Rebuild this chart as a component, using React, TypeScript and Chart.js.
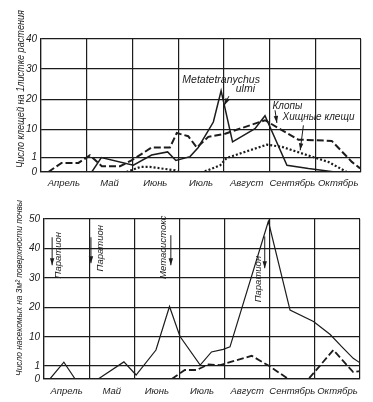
import React, { useEffect, useRef } from 'react';
import { Chart, LinearScale, registerables } from 'chart.js';

// ---------- data ----------
const MONTHS = ['Апрель', 'Май', 'Июнь', 'Июль', 'Август', 'Сентябрь', 'Октябрь'];
const MITES_Y_TICKS = [0, 1, 10, 20, 30, 40];
const INSECTS_Y_TICKS = [0, 1, 10, 20, 30, 40, 50];

const MITES_TITLE = 'Число клещей на 1листке растения';
const INSECTS_TITLE = 'Число насекомых на 3м² поверхности почвы';

// top chart (x in months from start of April, y = number per leaf)
const ULMI_X = [1.11, 1.32, 2.02, 2.42, 2.77, 2.95, 3.26, 3.44, 3.77, 3.94, 4.19, 4.68, 4.9, 5.38, 5.85, 6.43];
const ULMI_Y = [0, 1.0, 0.47, 1.8, 2.8, 0.8, 1.3, 4.2, 12.4, 22.8, 6.0, 10.2, 14.5, 0.47, 0.24, 0];

const BUGS_X = [0.16, 0.45, 0.82, 1.07, 1.33, 1.73, 1.98, 2.42, 2.82, 2.97, 3.22, 3.41, 3.66, 4.03, 4.9, 5.63, 6.36, 6.8, 6.98];
const BUGS_Y = [0, 0.63, 0.63, 1.7, 0.4, 0.4, 0.8, 4.2, 4.2, 8.8, 7.8, 4.2, 7.6, 8.6, 13, 6.7, 6.3, 0.7, 0.25];

const PREDATORS_X = [1.87, 2.17, 2.38, 2.93, 3.0, 3.55, 3.92, 4.06, 4.94, 5.27, 6.29, 6.69];
const PREDATORS_Y = [0, 0.35, 0.35, 0.12, 0, 0, 0.47, 0.97, 5.1, 4.4, 0.69, 0];

// bottom chart (number per 3 m² of soil surface)
const SOIL_A_X = [0.13, 0.44, 0.69, 1.2, 1.77, 2.04, 2.48, 2.78, 3.01, 3.46, 3.71, 3.97, 4.12, 4.97, 5.45, 5.97, 6.34, 6.6, 6.85, 7.0];
const SOIL_A_Y = [0, 2.1, 0, 0, 2.2, 0.3, 5.9, 20.3, 10.2, 1.2, 5.3, 6.1, 6.9, 49.2, 19.1, 15.2, 10.8, 6.9, 3.3, 1.9];

const SOIL_B_X = [2.83, 3.12, 3.38, 3.64, 3.9, 4.6, 5.0, 5.41, 5.86, 6.41, 6.85, 7.0];
const SOIL_B_Y = [0, 0.68, 0.68, 1.4, 1.2, 4.1, 0.96, 0, 0, 5.9, 0.52, 0.6];

// ---------- styling ----------
const INK = '#1c1c1c';
const FAMILY = "'Liberation Sans', 'DejaVu Sans', sans-serif";

// ---------- custom broken-linear scale (0..1, 1..10, then linear) ----------
class SegmentScale extends LinearScale {
  static id = 'segment';
  _pos(v: number) {
    const lo = (this.options as any).lowSpan ?? 0.47;
    const mid = (this.options as any).midSpan ?? 0.96;
    if (v <= 1) return v * lo;
    if (v <= 10) return lo + ((v - 1) / 9) * mid;
    return lo + mid + (v - 10) / 10;
  }
  getPixelForValue(value: any) {
    if (value === null || value === undefined || isNaN(value)) return NaN;
    const a = this._pos(this.min);
    const b = this._pos(this.max);
    return this.getPixelForDecimal((this._pos(+value) - a) / (b - a));
  }
  getValueForPixel(pixel: number) {
    const lo = (this.options as any).lowSpan ?? 0.47;
    const mid = (this.options as any).midSpan ?? 0.96;
    const a = this._pos(this.min);
    const b = this._pos(this.max);
    const p = a + this.getDecimalForPixel(pixel) * (b - a);
    if (p <= lo) return p / lo;
    if (p <= lo + mid) return 1 + ((p - lo) / mid) * 9;
    return 10 + (p - lo - mid) * 10;
  }
}

Chart.register(...registerables, SegmentScale);

const pts = (xs: number[], ys: number[]) => xs.map((x, i) => ({ x, y: ys[i] }));

type Txt = { t: string; x: number; y: number; size: number; rot?: boolean };
type Arr = { x1: number; y1: number; x2: number; y2: number };

function annotPlugin(spec: {
  title: string;
  titleX: number;
  titleSize: number;
  titleStart: number;
  titleWidth: number;
  texts: Txt[];
  arrows: Arr[];
}) {
  return {
    id: 'figAnnot',
    afterDraw(chart: any) {
      const { ctx, chartArea } = chart;
      const xs = chart.scales.x;
      const ys = chart.scales.y;
      ctx.save();
      ctx.fillStyle = INK;
      ctx.strokeStyle = INK;
      // axis title
      ctx.save();
      ctx.font = `italic ${spec.titleSize}px ${FAMILY}`;
      ctx.translate(spec.titleX, chartArea.bottom + spec.titleStart);
      ctx.rotate(-Math.PI / 2);
      ctx.textAlign = 'left';
      ctx.textBaseline = 'middle';
      ctx.fillText(spec.title, 0, 0, spec.titleWidth);
      ctx.restore();
      // texts
      for (const a of spec.texts) {
        const px = xs.getPixelForValue(a.x);
        const py = ys.getPixelForValue(a.y);
        ctx.save();
        ctx.font = `italic ${a.size}px ${FAMILY}`;
        ctx.translate(px, py);
        if (a.rot) ctx.rotate(-Math.PI / 2);
        ctx.textAlign = 'center';
        ctx.textBaseline = 'middle';
        ctx.fillText(a.t, 0, 0);
        ctx.restore();
      }
      // arrows
      ctx.lineWidth = 1;
      for (const a of spec.arrows) {
        const x1 = xs.getPixelForValue(a.x1);
        const y1 = ys.getPixelForValue(a.y1);
        const x2 = xs.getPixelForValue(a.x2);
        const y2 = ys.getPixelForValue(a.y2);
        ctx.beginPath();
        ctx.moveTo(x1, y1);
        ctx.lineTo(x2, y2);
        ctx.stroke();
        const ang = Math.atan2(y2 - y1, x2 - x1);
        const L = 7;
        const W = 2.2;
        ctx.beginPath();
        ctx.moveTo(x2, y2);
        ctx.lineTo(x2 - L * Math.cos(ang) + W * Math.sin(ang), y2 - L * Math.sin(ang) - W * Math.cos(ang));
        ctx.lineTo(x2 - L * Math.cos(ang) - W * Math.sin(ang), y2 - L * Math.sin(ang) + W * Math.cos(ang));
        ctx.closePath();
        ctx.fill();
      }
      ctx.restore();
    },
  };
}

function buildConfig(c: any) {
  const font = { family: FAMILY, style: 'italic' as const, size: 10 };
  const monthFont = { family: FAMILY, style: 'italic' as const, size: 9.5 };
  return {
    type: 'line' as const,
    data: { datasets: c.datasets },
    options: {
      responsive: false,
      animation: false as const,
      events: [],
      layout: { padding: { top: c.padTop, right: c.padRight, left: 0, bottom: 0 } },
      elements: { point: { radius: 0 }, line: { tension: 0 } },
      plugins: { legend: { display: false }, tooltip: { enabled: false } },
      scales: {
        x: {
          type: 'linear',
          min: 0,
          max: 7,
          afterBuildTicks: (s: any) => {
            s.ticks = MONTHS.map((_, i) => ({ value: i + 0.5 }));
          },
          afterFit: (s: any) => {
            s.height = c.xHeight;
          },
          grid: { offset: true, color: INK, lineWidth: 1.2, drawTicks: false },
          border: { color: INK, width: 1.2 },
          ticks: {
            autoSkip: false,
            maxRotation: 0,
            padding: c.xPad,
            color: INK,
            font: monthFont,
            callback: (_v: any, i: number) => MONTHS[i],
          },
        },
        y: {
          type: 'segment',
          min: 0,
          max: c.yMax,
          lowSpan: c.lowSpan,
          midSpan: c.midSpan,
          afterBuildTicks: (s: any) => {
            s.ticks = c.yTicks.map((v: number) => ({ value: v }));
          },
          afterFit: (s: any) => {
            s.width = c.yWidth;
          },
          grid: { color: INK, lineWidth: 1.2, drawTicks: false },
          border: { color: INK, width: 1.2 },
          ticks: { padding: 4, color: INK, font, callback: (v: any) => String(v) },
        },
      },
    },
    plugins: [annotPlugin(c.annot)],
  };
}

const TOP_CFG = {
  padTop: 39,
  padRight: 12,
  xHeight: 28,
  xPad: 6,
  yWidth: 41,
  yMax: 40,
  yTicks: MITES_Y_TICKS,
  lowSpan: 0.48,
  midSpan: 0.94,
  datasets: [
    { label: 'Metatetranychus ulmi', data: pts(ULMI_X, ULMI_Y), borderColor: INK, borderWidth: 1.5, fill: false },
    { label: 'Клопы', data: pts(BUGS_X, BUGS_Y), borderColor: INK, borderWidth: 2, borderDash: [7, 3], fill: false },
    { label: 'Хищные клещи', data: pts(PREDATORS_X, PREDATORS_Y), borderColor: INK, borderWidth: 2.2, borderDash: [2, 2], fill: false },
  ],
  annot: {
    title: MITES_TITLE,
    titleX: 21,
    titleSize: 10,
    titleStart: -4,
    titleWidth: 158,
    texts: [
      { t: 'Metatetranychus', x: 3.94, y: 26.3, size: 10.5 },
      { t: 'ulmi', x: 4.47, y: 23.3, size: 10.5 },
      { t: 'Клопы', x: 5.39, y: 17.7, size: 10 },
      { t: 'Хищные клещи', x: 6.07, y: 14.1, size: 10 },
    ],
    arrows: [
      { x1: 4.11, y1: 21, x2: 4.01, y2: 18 },
      { x1: 5.12, y1: 16.3, x2: 5.16, y2: 12.1 },
      { x1: 5.74, y1: 11.3, x2: 5.67, y2: 3.3 },
    ],
  },
};

const BOTTOM_CFG = {
  padTop: 19,
  padRight: 13,
  xHeight: 23,
  xPad: 7,
  yWidth: 44,
  yMax: 50,
  yTicks: INSECTS_Y_TICKS,
  lowSpan: 0.45,
  midSpan: 0.98,
  datasets: [
    { label: 'A', data: pts(SOIL_A_X, SOIL_A_Y), borderColor: INK, borderWidth: 1.2, fill: false },
    { label: 'B', data: pts(SOIL_B_X, SOIL_B_Y), borderColor: INK, borderWidth: 1.8, borderDash: [7, 3], fill: false },
  ],
  annot: {
    title: INSECTS_TITLE,
    titleX: 19,
    titleSize: 9.5,
    titleStart: -3,
    titleWidth: 176,
    texts: [
      { t: 'Паратион', x: 0.31, y: 37.7, size: 9.5, rot: true },
      { t: 'Паратион', x: 1.24, y: 40.1, size: 9.5, rot: true },
      { t: 'Метасистокс', x: 2.64, y: 40.4, size: 9.5, rot: true },
      { t: 'Паратион', x: 4.74, y: 29.6, size: 9.5, rot: true },
    ],
    arrows: [
      { x1: 0.18, y1: 43.8, x2: 0.18, y2: 34.3 },
      { x1: 1.04, y1: 43.8, x2: 1.04, y2: 35 },
      { x1: 2.81, y1: 44.5, x2: 2.81, y2: 34.3 },
      { x1: 4.89, y1: 44.1, x2: 4.89, y2: 33.3 },
    ],
  },
};

function Panel({ cfg, top, height }: { cfg: any; top: number; height: number }) {
  const ref = useRef<HTMLCanvasElement | null>(null);
  useEffect(() => {
    if (!ref.current) return;
    const chart = new Chart(ref.current, buildConfig(cfg) as any);
    return () => chart.destroy();
  }, [cfg]);
  return (
    <canvas
      ref={ref}
      width={373}
      height={height}
      style={{ position: 'absolute', left: 0, top, width: 373, height, display: 'block' }}
    />
  );
}

export default function App() {
  return (
    <div style={{ position: 'absolute', left: 0, top: 0, width: 373, height: 402, background: '#fff', overflow: 'hidden' }}>
      <Panel cfg={TOP_CFG} top={0} height={200} />
      <Panel cfg={BOTTOM_CFG} top={200} height={202} />
    </div>
  );
}
